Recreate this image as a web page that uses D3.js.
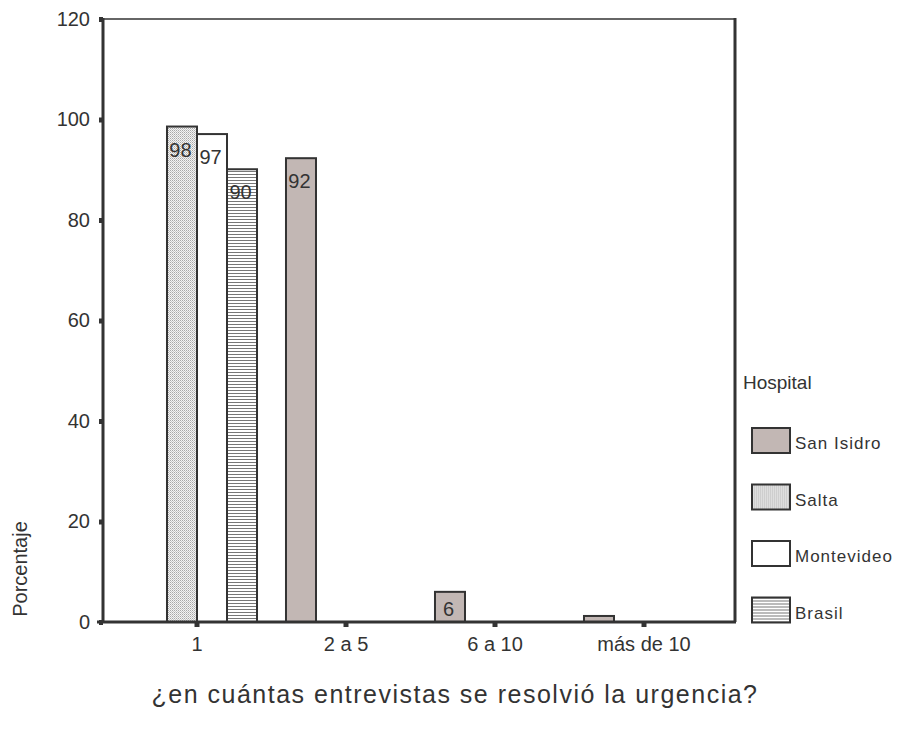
<!DOCTYPE html>
<html>
<head>
<meta charset="utf-8">
<script src="https://cdn.jsdelivr.net/npm/d3@7"></script>
<style>
  html, body { margin: 0; padding: 0; background: #fff; }
  svg { display: block; font-family: "Liberation Sans", Arial, sans-serif; }
</style>
</head>
<body>
<svg id="chart" width="911" height="731"></svg>
<script>
// ---- data ----
const categories = ["1", "2 a 5", "6 a 10", "más de 10"];
const seriesNames = ["San Isidro", "Salta", "Montevideo", "Brasil"];
const sanIsidro = [0, 92.3, 6, 1.2];
const salta = [98.6, 0, 0, 0];
const montevideo = [97.1, 0, 0, 0];
const brasil = [90.1, 0, 0, 0];
const yTicks = [0, 20, 40, 60, 80, 100, 120];
const yLabel = "Porcentaje";
const xLabel = "¿en cuántas entrevistas se resolvió la urgencia?";
const legendTitle = "Hospital";

const seriesValues = [sanIsidro, salta, montevideo, brasil];

// ---- layout ----
const svg = d3.select("#chart");
const plot = { left: 103, right: 735, top: 19, bottom: 622 };
const ink = "#333";

const defs = svg.append("defs");
const stip = defs.append("pattern").attr("id", "pSalta").attr("patternUnits", "userSpaceOnUse")
  .attr("width", 2).attr("height", 2);
stip.append("rect").attr("width", 2).attr("height", 2).attr("fill", "#f4f4f4");
stip.append("rect").attr("width", 1).attr("height", 1).attr("fill", "#a8a8a8");
stip.append("rect").attr("x", 1).attr("y", 1).attr("width", 1).attr("height", 1).attr("fill", "#c8c8c8");

const lines = defs.append("pattern").attr("id", "pBrasil").attr("patternUnits", "userSpaceOnUse")
  .attr("width", 4).attr("height", 3);
lines.append("rect").attr("width", 4).attr("height", 3).attr("fill", "#fff");
lines.append("rect").attr("width", 4).attr("height", 1).attr("fill", "#777");

const fills = {
  "San Isidro": "#c2b7b4",
  "Salta": "url(#pSalta)",
  "Montevideo": "#ffffff",
  "Brasil": "url(#pBrasil)"
};

// ---- scales ----
const y = d3.scaleLinear().domain([0, 120]).range([plot.bottom, plot.top]);
const x0 = d3.scaleBand().domain(categories).range([122.5, 718.5]).padding(0);
const x1 = d3.scaleBand().domain(seriesNames).range([0, x0.bandwidth()])
  .paddingInner(0).paddingOuter(0.483);

const rows = [];
categories.forEach((c, ci) => {
  seriesNames.forEach((s, si) => {
    rows.push({ cat: c, series: s, value: seriesValues[si][ci] });
  });
});

// ---- frame ----
svg.append("line").attr("x1", plot.left).attr("x2", plot.right)
  .attr("y1", plot.top).attr("y2", plot.top)
  .attr("stroke", "#666").attr("stroke-width", 2);
svg.append("line").attr("x1", plot.right).attr("x2", plot.right)
  .attr("y1", plot.top - 1).attr("y2", plot.bottom)
  .attr("stroke", ink).attr("stroke-width", 3);

// ---- bars ----
const g = svg.append("g");
g.selectAll("rect.bar").data(rows).join("rect")
  .attr("class", "bar")
  .attr("x", d => x0(d.cat) + x1(d.series))
  .attr("width", x1.bandwidth())
  .attr("y", d => y(d.value))
  .attr("height", d => y(0) - y(d.value))
  .attr("fill", d => fills[d.series])
  .attr("stroke", ink)
  .attr("stroke-width", 2);

g.selectAll("text.lbl").data(rows.filter(d => d.value >= 3)).join("text")
  .attr("class", "lbl")
  .attr("x", d => x0(d.cat) + x1(d.series) + x1.bandwidth() / 2 - 1.5)
  .attr("y", d => Math.min(y(d.value) + 30, y(0) - 6))
  .attr("text-anchor", "middle")
  .attr("font-size", 20)
  .attr("fill", ink)
  .text(d => Math.floor(d.value));

// ---- axes ----
const yAxis = d3.axisLeft(y).tickValues(yTicks).tickSize(4).tickPadding(9).tickSizeOuter(0);
const ya = svg.append("g").attr("transform", `translate(${plot.left},0)`).call(yAxis);
ya.select(".domain").remove();
ya.selectAll(".tick line").attr("stroke", ink).attr("stroke-width", 5);
ya.selectAll(".tick text").attr("font-size", 20).attr("fill", ink)
  .attr("font-family", "Liberation Sans, Arial, sans-serif");
svg.append("line").attr("x1", plot.left).attr("x2", plot.left)
  .attr("y1", plot.top - 1).attr("y2", plot.bottom + 1)
  .attr("stroke", ink).attr("stroke-width", 3);

const xAxis = d3.axisBottom(x0).tickSize(5).tickPadding(10).tickSizeOuter(0);
const xa = svg.append("g").attr("transform", `translate(0,${plot.bottom})`).call(xAxis);
xa.select(".domain").remove();
xa.selectAll(".tick line").attr("stroke", ink).attr("stroke-width", 5);
xa.selectAll(".tick text").attr("font-size", 20).attr("fill", ink)
  .attr("font-family", "Liberation Sans, Arial, sans-serif");
svg.append("line").attr("x1", plot.left - 6).attr("x2", plot.right + 1)
  .attr("y1", plot.bottom).attr("y2", plot.bottom)
  .attr("stroke", ink).attr("stroke-width", 3);

// ---- axis titles ----
svg.append("text")
  .attr("transform", "translate(27,569) rotate(-90)")
  .attr("text-anchor", "middle")
  .attr("font-size", 20).attr("fill", ink)
  .text(yLabel);

svg.append("text")
  .attr("x", 455).attr("y", 703)
  .attr("text-anchor", "middle")
  .attr("font-size", 25).attr("letter-spacing", 1.5).attr("fill", ink)
  .text(xLabel);

// ---- legend ----
const leg = svg.append("g").attr("transform", "translate(743,389)");
leg.append("text").attr("x", 0).attr("y", 0)
  .attr("font-size", 19).attr("fill", ink).text(legendTitle);
const items = leg.selectAll("g.item").data(seriesNames).join("g")
  .attr("class", "item")
  .attr("transform", (d, i) => `translate(9,${39 + i * 56.5})`);
items.append("rect").attr("width", 38).attr("height", 25)
  .attr("fill", d => fills[d]).attr("stroke", ink).attr("stroke-width", 2);
items.append("text").attr("x", 43).attr("y", 21)
  .attr("font-size", 17).attr("letter-spacing", 1).attr("fill", ink)
  .text(d => d);
</script>
</body>
</html>
